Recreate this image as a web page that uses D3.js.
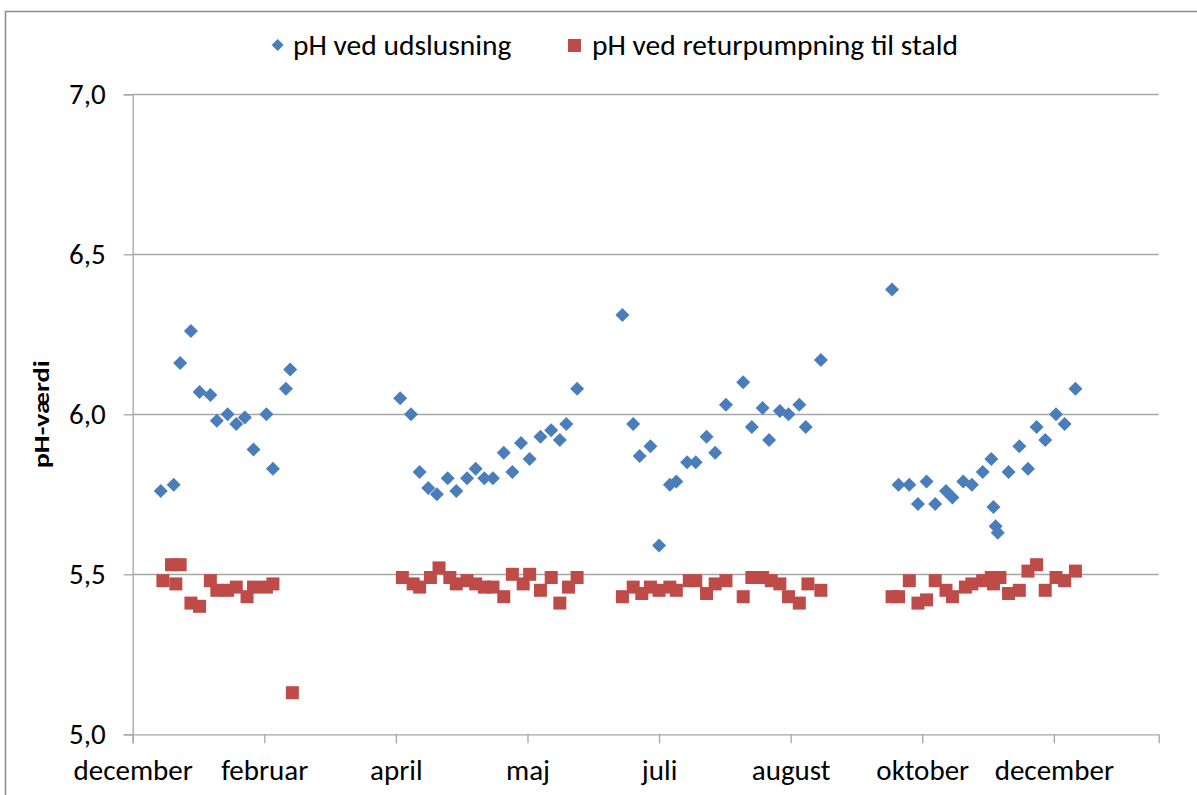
<!DOCTYPE html>
<html>
<head>
<meta charset="utf-8">
<script src="https://cdn.jsdelivr.net/npm/d3@7"></script>
<style>
  body { margin: 0; background: #fff; }
  svg { display: block; }
  text { font-family: Carlito, Lato, "Open Sans", sans-serif; fill: #000; }
</style>
</head>
<body>
<svg id="chart" width="1197" height="795"></svg>
<script>
// ---- data (x = days from start of axis, y = pH) ----
const seriesNames = ["pH ved udslusning", "pH ved returpumpning til stald"];
const monthLabels = ["december", "februar", "april", "maj", "juli", "august", "oktober", "december"];
const monthTickDays = [0, 61, 122, 183, 244, 305, 366, 427];
const yTicks = [5.0, 5.5, 6.0, 6.5, 7.0];

const udslusningDays = [
  13, 19, 22, 27, 31, 36, 39, 44, 48, 52, 56, 62, 65, 71, 73,
  124, 129, 133, 137, 141, 146, 150, 155, 159, 163, 167, 172, 176, 180, 184, 189, 194, 198, 201, 206,
  227, 232, 235, 240, 244, 249, 252, 257, 261, 266, 270, 275, 283, 287, 292, 295, 300, 304, 309, 312, 319,
  352, 355, 360, 364, 368, 372, 377, 380, 385, 389, 394, 398, 399, 400, 401, 406, 411, 415, 419, 423, 428, 432, 437
];
const udslusningPH = [
  5.76, 5.78, 6.16, 6.26, 6.07, 6.06, 5.98, 6.00, 5.97, 5.99, 5.89, 6.00, 5.83, 6.08, 6.14,
  6.05, 6.00, 5.82, 5.77, 5.75, 5.80, 5.76, 5.80, 5.83, 5.80, 5.80, 5.88, 5.82, 5.91, 5.86, 5.93, 5.95, 5.92, 5.97, 6.08,
  6.31, 5.97, 5.87, 5.90, 5.59, 5.78, 5.79, 5.85, 5.85, 5.93, 5.88, 6.03, 6.10, 5.96, 6.02, 5.92, 6.01, 6.00, 6.03, 5.96, 6.17,
  6.39, 5.78, 5.78, 5.72, 5.79, 5.72, 5.76, 5.74, 5.79, 5.78, 5.82, 5.86, 5.71, 5.65, 5.63, 5.82, 5.90, 5.83, 5.96, 5.92, 6.00, 5.97, 6.08
];

const returDays = [
  14, 18, 20, 22, 27, 31, 36, 39, 44, 48, 53, 56, 62, 65, 74,
  125, 130, 133, 138, 142, 147, 150, 155, 159, 163, 167, 172, 176, 181, 184, 189, 194, 198, 202, 206,
  227, 232, 236, 240, 244, 249, 252, 258, 261, 266, 270, 275, 283, 287, 292, 296, 300, 304, 309, 313, 319,
  352, 355, 360, 364, 368, 372, 377, 380, 386, 389, 394, 398, 399, 402, 406, 411, 415, 419, 423, 428, 432, 437
];
const returPH = [
  5.48, 5.53, 5.47, 5.53, 5.41, 5.40, 5.48, 5.45, 5.45, 5.46, 5.43, 5.46, 5.46, 5.47, 5.13,
  5.49, 5.47, 5.46, 5.49, 5.52, 5.49, 5.47, 5.48, 5.47, 5.46, 5.46, 5.43, 5.50, 5.47, 5.50, 5.45, 5.49, 5.41, 5.46, 5.49,
  5.43, 5.46, 5.44, 5.46, 5.45, 5.46, 5.45, 5.48, 5.48, 5.44, 5.47, 5.48, 5.43, 5.49, 5.49, 5.48, 5.47, 5.43, 5.41, 5.47, 5.45,
  5.43, 5.43, 5.48, 5.41, 5.42, 5.48, 5.45, 5.43, 5.46, 5.47, 5.48, 5.49, 5.47, 5.49, 5.44, 5.45, 5.51, 5.53, 5.45, 5.49, 5.48, 5.51
];

const colors = ["#4A7EBB", "#BE4B48"];

// ---- layout ----
const svg = d3.select("#chart");
const plot = { left: 132.7, right: 1158.7, top: 94.3, bottom: 734.3 };

const x = d3.scaleLinear().domain([0, 475.6]).range([plot.left, plot.right]);
const y = d3.scaleLinear().domain([5.0, 7.0]).range([plot.bottom, plot.top]);

// chart border
svg.append("rect")
  .attr("x", 5.5).attr("y", 11.5).attr("width", 1250).attr("height", 850)
  .attr("fill", "none").attr("stroke", "#8c8c8c").attr("stroke-width", 1.5);

// gridlines
svg.append("g")
  .selectAll("line")
  .data(yTicks.filter(d => d > 5.0))
  .join("line")
  .attr("x1", plot.left).attr("x2", plot.right)
  .attr("y1", d => Math.round(y(d)) + 0.5).attr("y2", d => Math.round(y(d)) + 0.5)
  .attr("stroke", "#a6a6a6").attr("stroke-width", 1.3);

// y axis
const yAxis = svg.append("g")
  .attr("transform", `translate(${plot.left},0)`)
  .call(d3.axisLeft(y).tickValues(yTicks).tickSize(9).tickPadding(18)
    .tickFormat(d => d3.format(".1f")(d).replace(".", ",")));
yAxis.select(".domain").attr("stroke", "#a6a6a6").attr("stroke-width", 1.3);
yAxis.selectAll(".tick line").attr("stroke", "#a6a6a6").attr("stroke-width", 1.3);
yAxis.selectAll(".tick text").attr("font-size", 29).attr("fill", "#000");

// x axis
const xAxis = svg.append("g")
  .attr("transform", `translate(0,${plot.bottom})`)
  .call(d3.axisBottom(x).tickValues(monthTickDays).tickSize(9).tickPadding(16)
    .tickFormat((d, i) => monthLabels[i]));
xAxis.select(".domain").attr("stroke", "#a6a6a6").attr("stroke-width", 1.3);
xAxis.selectAll(".tick line").attr("stroke", "#a6a6a6").attr("stroke-width", 1.3);
xAxis.selectAll(".tick text").attr("font-size", 29).attr("fill", "#000");

// y axis title
svg.append("text")
  .attr("transform", `translate(49,${(plot.top + plot.bottom) / 2}) rotate(-90)`)
  .attr("text-anchor", "middle")
  .attr("font-size", 22).attr("font-weight", "bold")
  .attr("textLength", 108).attr("lengthAdjust", "spacingAndGlyphs")
  .text("pH-værdi");

// markers
const diamond = "M0,-7L7,0L0,7L-7,0Z";
svg.append("g")
  .selectAll("path")
  .data(udslusningDays.map((d, i) => [d, udslusningPH[i]]))
  .join("path")
  .attr("d", diamond)
  .attr("transform", d => `translate(${x(d[0])},${y(d[1])})`)
  .attr("fill", colors[0]);

svg.append("g")
  .selectAll("rect")
  .data(returDays.map((d, i) => [d, returPH[i]]))
  .join("rect")
  .attr("x", d => x(d[0]) - 6.5)
  .attr("y", d => y(d[1]) - 6.5)
  .attr("width", 13).attr("height", 13)
  .attr("fill", colors[1]);

// legend
const legend = svg.append("g");
legend.append("path").attr("d", "M0,-6L6,0L0,6L-6,0Z")
  .attr("transform", "translate(277.7,45)").attr("fill", colors[0]);
legend.append("text").attr("x", 293).attr("y", 45).attr("dominant-baseline", "central")
  .attr("font-size", 29.5).text(seriesNames[0]);
legend.append("rect").attr("x", 568).attr("y", 39).attr("width", 13).attr("height", 13)
  .attr("fill", colors[1]);
legend.append("text").attr("x", 592).attr("y", 45).attr("dominant-baseline", "central")
  .attr("font-size", 29.5).text(seriesNames[1]);
</script>
</body>
</html>
